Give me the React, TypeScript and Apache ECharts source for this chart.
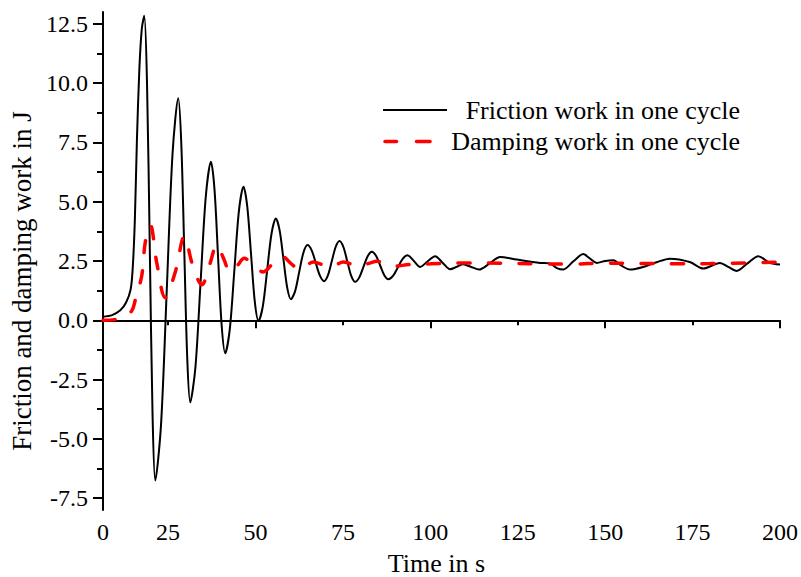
import React, { useEffect, useRef } from "react";
import * as echarts from "echarts";

// Friction work in one cycle (black solid)
const frictionTime = [
  6.4, 9.0, 11.35, 13.0, 14.3, 14.9, 15.5, 16.1, 16.8, 17.5, 18.2,
  18.99, 19.78, 20.56, 21.35,
  22.99, 24.64, 26.28, 27.92,
  28.78, 29.64, 30.49, 31.35,
  32.83, 34.31, 35.79, 37.27,
  38.29, 39.31, 40.33, 41.35,
  42.66, 43.97, 45.27, 46.58,
  47.65, 48.73, 49.8, 50.87,
  52.11, 53.36, 54.6, 55.84,
  56.91, 57.99, 59.06, 60.13,
  61.32, 62.5, 63.69, 64.87,
  66.07, 67.26, 68.46, 69.65,
  70.74, 71.84, 72.93, 74.02,
  75.14, 76.27, 77.39, 78.51,
  79.7, 80.9, 82.09, 83.28,
  84.47, 85.66, 86.84, 88.03,
  89.39, 90.75, 92.1, 93.46,
  95.3, 97.09, 99.2, 101.37, 103.5, 105.66, 107.5, 109.37, 111.7, 113.95,
  117, 119.95, 124.7, 131.4, 134.2, 136.2, 138.04, 141, 143.75, 145.7,
  147.6, 150, 152.3, 154.7, 157.1, 160.9, 164.7, 168.5, 174.2, 178.05,
  182.8, 185.2, 187.6, 190.7, 193.8, 197.1, 200,
];
const frictionWork = [
  0.15, 0.22, 0.42, 0.75, 1.3, 2.2, 4.2, 7.6, 10.6, 12.3, 12.84,
  9.98, 3.04, -3.9, -6.76,
  -4.41, 1.3, 7.01, 9.36,
  7.49, 2.95, -1.59, -3.46,
  -1.98, 1.62, 5.21, 6.69,
  5.51, 2.65, -0.21, -1.39,
  -0.37, 2.12, 4.61, 5.63,
  4.8, 2.8, 0.8, -0.03,
  0.6, 2.13, 3.66, 4.29,
  3.79, 2.59, 1.39, 0.89,
  1.22, 2.03, 2.84, 3.17,
  2.95, 2.41, 1.87, 1.65,
  1.9, 2.5, 3.09, 3.34,
  3.09, 2.48, 1.87, 1.62,
  1.81, 2.26, 2.7, 2.89,
  2.72, 2.31, 1.9, 1.73,
  1.88, 2.24, 2.59, 2.74,
  2.5, 2.25, 2.48, 2.7, 2.43, 2.15, 2.25, 2.36, 2.25, 2.14,
  2.4, 2.67, 2.56, 2.42, 2.4, 2.2, 2.14, 2.5, 2.79, 2.6,
  2.42, 2.5, 2.53, 2.3, 2.14, 2.25, 2.45, 2.6, 2.46, 2.18,
  2.42, 2.25, 2.08, 2.4, 2.7, 2.42, 2.35,
];

// Damping work in one cycle (red dashed)
const dampingTime = [
  6.4, 10.5, 12.8, 14.7, 15.6, 17.5, 18.5, 19.92, 21.8, 24.2, 27.0, 29.72,
  31.9, 34.69, 36.8, 38.98, 40.9, 42.78, 44.8, 46.78, 49.5, 52.2, 55.0, 57.64,
  60.1, 62.5, 64.5, 66.5, 69.0, 71.4, 73.2, 75.1, 77.5, 79.9, 82.4, 84.8,
  87.1, 89.4, 94, 100, 110, 120, 130, 140, 150, 160, 170, 180, 190, 200,
];
const dampingWork = [
  0.0, 0.04, 0.15, 0.42, 0.84, 1.9, 3.3, 4.01, 2.4, 0.96, 2.0, 3.55,
  2.39, 1.5, 2.3, 3.17, 2.6, 2.04, 2.3, 2.62, 2.3, 2.04, 2.4, 2.7,
  2.4, 2.16, 2.3, 2.46, 2.35, 2.25, 2.35, 2.46, 2.37, 2.29, 2.4, 2.49,
  2.38, 2.28, 2.35, 2.38, 2.42, 2.41, 2.38, 2.37, 2.41, 2.4, 2.38, 2.39, 2.42, 2.45,
];

const xMin = 6.4;
const xMax = 200;
const xLabelValues = [6.4, 25, 50, 75, 100, 125, 150, 175, 200];
const xLabelTexts = ["0", "25", "50", "75", "100", "125", "150", "175", "200"];
const xMajorTicks = [50, 100, 150, 200];
const xMinorTicks = [25, 75, 125, 175];

const yMin = -8;
const yMax = 13;
const yLabelValues = [-7.5, -5, -2.5, 0, 2.5, 5, 7.5, 10, 12.5];
const yMinorTicks = [-6.25, -3.75, -1.25, 1.25, 3.75, 6.25, 8.75, 11.25];

const seriesNames = ["Friction work in one cycle", "Damping work in one cycle"];

const FONT = "Liberation Serif";

export default function App() {
  const ref = useRef<HTMLDivElement>(null);

  useEffect(() => {
    if (!ref.current) return;
    const chart = echarts.init(ref.current, null, { renderer: "svg" });

    const frictionData = frictionTime.map((t, i) => [t, frictionWork[i]]);
    const dampingData = dampingTime.map((t, i) => [t, dampingWork[i]]);

    chart.setOption({
      animation: false,
      backgroundColor: "#ffffff",
      textStyle: { fontFamily: FONT, color: "#000000" },
      grid: { left: 103, top: 12, right: 21, bottom: 67, outerBoundsMode: "none", containLabel: false },
      xAxis: [
        {
          type: "value",
          min: xMin,
          max: xMax,
          name: "Time in s",
          nameLocation: "middle",
          nameGap: 40,
          nameTextStyle: {
            fontSize: 26,
            lineHeight: 26,
            color: "#000000",
            fontFamily: FONT,
            padding: [0, 10, 0, 0],
          },
          axisLine: { show: true, lineStyle: { color: "#000000", width: 2 } },
          axisTick: {
            show: true,
            inside: false,
            length: 8,
            customValues: xMajorTicks,
            lineStyle: { color: "#000000", width: 2 },
          },
          axisLabel: {
            show: true,
            margin: 10,
            fontSize: 24,
            fontFamily: FONT,
            color: "#000000",
            customValues: xLabelValues,
            formatter: (v: number) => {
              const idx = xLabelValues.findIndex((x) => Math.abs(x - v) < 1e-6);
              return idx >= 0 ? xLabelTexts[idx] : "";
            },
          },
          splitLine: { show: false },
        },
        {
          type: "value",
          min: xMin,
          max: xMax,
          position: "bottom",
          axisLine: { show: false },
          axisTick: {
            show: true,
            length: 5,
            customValues: xMinorTicks,
            lineStyle: { color: "#000000", width: 2 },
          },
          axisLabel: { show: false },
          splitLine: { show: false },
        },
      ],
      yAxis: [
        {
          type: "value",
          min: yMin,
          max: yMax,
          name: "Friction and damping work in J",
          nameLocation: "middle",
          nameGap: 64,
          nameTextStyle: { fontSize: 27, color: "#000000", fontFamily: FONT, padding: [0, 40, 0, 0] },
          axisLine: { show: true, lineStyle: { color: "#000000", width: 2 } },
          axisTick: {
            show: true,
            length: 10,
            customValues: yLabelValues,
            lineStyle: { color: "#000000", width: 2 },
          },
          axisLabel: {
            show: true,
            margin: 15,
            fontSize: 24,
            fontFamily: FONT,
            color: "#000000",
            customValues: yLabelValues,
            formatter: (v: number) => v.toFixed(1),
          },
          splitLine: { show: false },
        },
        {
          type: "value",
          min: yMin,
          max: yMax,
          position: "left",
          axisLine: { show: false },
          axisTick: {
            show: true,
            length: 6,
            customValues: yMinorTicks,
            lineStyle: { color: "#000000", width: 2 },
          },
          axisLabel: { show: false },
          splitLine: { show: false },
        },
      ],
      series: [
        {
          name: seriesNames[0],
          type: "line",
          data: frictionData,
          showSymbol: false,
          smooth: 0.3,
          lineStyle: { color: "#000000", width: 2 },
          z: 2,
        },
        {
          name: seriesNames[1],
          type: "line",
          data: dampingData,
          showSymbol: false,
          smooth: 0.35,
          lineStyle: {
            color: "#ff0000",
            width: 3.5,
            type: [12, 18.5],
            cap: "round",
          },
          z: 3,
        },
      ],
      graphic: [
        {
          type: "line",
          shape: { x1: 383, y1: 110, x2: 447, y2: 110 },
          style: { stroke: "#000000", lineWidth: 2 },
        },
        {
          type: "text",
          x: 740,
          y: 110,
          style: {
            text: seriesNames[0],
            fill: "#000000",
            fontSize: 26,
            fontFamily: FONT,
            textAlign: "right",
            textVerticalAlign: "middle",
          },
        },
        {
          type: "line",
          shape: { x1: 385, y1: 141.5, x2: 396.5, y2: 141.5 },
          style: { stroke: "#ff0000", lineWidth: 3.5, lineCap: "round" },
        },
        {
          type: "line",
          shape: { x1: 416.5, y1: 141.5, x2: 430, y2: 141.5 },
          style: { stroke: "#ff0000", lineWidth: 3.5, lineCap: "round" },
        },
        {
          type: "text",
          x: 740,
          y: 141,
          style: {
            text: seriesNames[1],
            fill: "#000000",
            fontSize: 26,
            fontFamily: FONT,
            textAlign: "right",
            textVerticalAlign: "middle",
          },
        },
      ],
    });

    return () => {
      chart.dispose();
    };
  }, []);

  return (
    <div
      ref={ref}
      style={{ position: "fixed", left: 0, top: 0, width: 801, height: 577, background: "#fff" }}
    />
  );
}
